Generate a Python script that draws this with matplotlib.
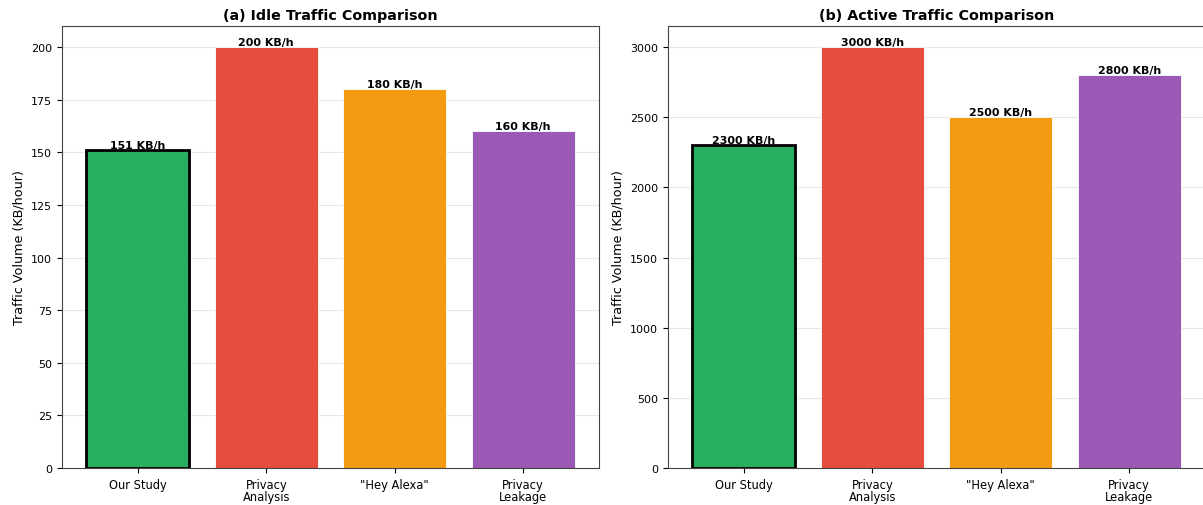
import matplotlib.pyplot as plt

# Traffic volumes per study (KB/hour)
studies = ['Our Study', 'Privacy\nAnalysis', '"Hey Alexa"', 'Privacy\nLeakage']
idle_traffic = [151, 200, 180, 160]
active_traffic = [2300, 3000, 2500, 2800]
colors = ['#27ae60', '#e74c3c', '#f39c12', '#9b59b6']

fig = plt.figure(figsize=(12.03, 5.06), dpi=100)
ax1 = fig.add_axes([62 / 1203, 37 / 506, 537 / 1203, 442 / 506])
ax2 = fig.add_axes([668 / 1203, 37 / 506, 537 / 1203, 442 / 506])

panels = [
    (ax1, idle_traffic, '(a) Idle Traffic Comparison'),
    (ax2, active_traffic, '(b) Active Traffic Comparison'),
]

for ax, values, title in panels:
    bars = ax.bar(range(len(studies)), values, color=colors, width=0.8,
                  edgecolor='white', linewidth=0.6)
    # highlight our own measurement
    bars[0].set_edgecolor('black')
    bars[0].set_linewidth(2)
    for bar, v in zip(bars, values):
        ax.text(bar.get_x() + bar.get_width() / 2, v, f'{v} KB/h',
                ha='center', va='bottom', fontsize=7.9, fontweight='bold')
    ax.set_xticks(range(len(studies)))
    ax.set_xticklabels(studies, fontsize=8.3, linespacing=0.95)
    ax.tick_params(axis='x', pad=3.5)
    ax.tick_params(axis='y', labelsize=8)
    ax.set_ylabel('Traffic Volume (KB/hour)', fontsize=9.2)
    ax.set_title(title, fontsize=10.3, fontweight='bold', pad=5)
    ax.grid(axis='y', alpha=0.3)
    ax.set_axisbelow(True)
    for s in ax.spines.values():
        s.set_color('#444444')

fig.savefig('out.png', dpi=100)
